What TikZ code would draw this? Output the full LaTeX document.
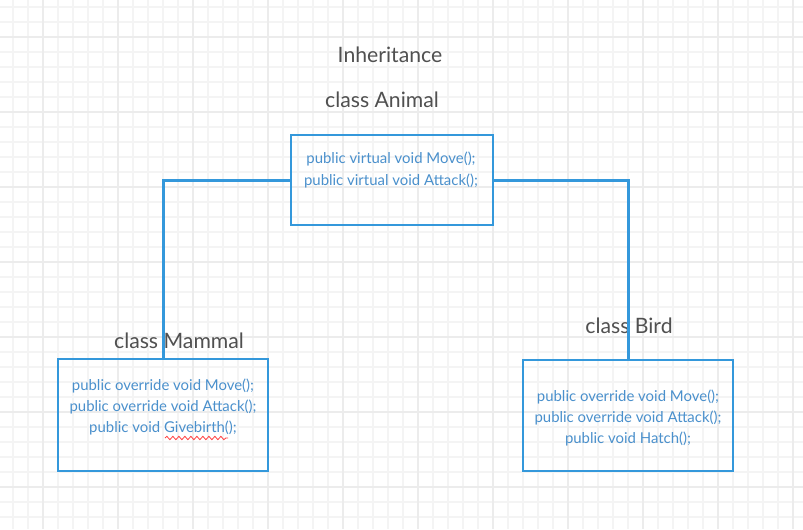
\documentclass[tikz,border=0pt]{standalone}
\usepackage{fontspec}
\setmainfont{Lato}
\usetikzlibrary{decorations.pathmorphing}
\definecolor{umlblue}{RGB}{52,152,219}
\definecolor{codeblue}{RGB}{74,144,204}
\definecolor{titlegrey}{RGB}{80,80,80}
\definecolor{gridminor}{RGB}{244,244,244}
\definecolor{gridmajor}{RGB}{236,236,236}
\begin{document}
\begin{tikzpicture}[
		x=0.75pt, y=-0.75pt,
		classbox/.style={draw=umlblue, line width=1.5pt, rectangle, inner sep=0pt},
		code/.style={text=codeblue, font=\fontsize{11.2}{15.8}\selectfont, align=center, inner sep=0pt},
		title/.style={text=titlegrey, font=\fontsize{15.9}{18}\selectfont, inner sep=0pt},
		link/.style={draw=umlblue, line width=2.25pt}
		]
		\useasboundingbox (0,0) rectangle (803,529);
		\fill[white] (0,0) rectangle (803,529);
		\foreach \gx in {13,28,...,800} {\draw[gridminor, line width=0.9pt] (\gx,0) -- (\gx,529);}
		\foreach \gy in {7,22,...,529} {\draw[gridminor, line width=0.9pt] (0,\gy) -- (803,\gy);}
		\foreach \gx in {43,118,...,800} {\draw[gridmajor, line width=0.9pt] (\gx,0) -- (\gx,529);}
		\foreach \gy in {37,112,...,529} {\draw[gridmajor, line width=0.9pt] (0,\gy) -- (803,\gy);}
		
		\node[title] (inheritance) at (390,55) {Inheritance};
		\node[title] (animallabel) at (382,100) {class Animal};
		\node[title] (mammallabel) at (179,341) {class Mammal};
		\node[title] (birdlabel) at (629,326) {class Bird};
		
		\node[classbox, minimum width=151.5pt, minimum height=67.5pt] (animal) at (392,180) {};
		\node[classbox, minimum width=157.5pt, minimum height=84pt] (mammal) at (163,415) {};
		\node[classbox, minimum width=157.5pt, minimum height=83.25pt] (bird) at (628,415.5) {};
		
		\draw[link] (animal.west) -| (mammal.north);
		\draw[link] (animal.east) -| (bird.north);
		
		\node[code] (animalcode) at (391,170) {public virtual void Move();\\public virtual void Attack();};
		\node[code] (mammalcode) at (163,407) {public override void Move();\\public override void Attack();\\public void Givebirth();};
		\node[code] (birdcode) at (628,418) {public override void Move();\\public override void Attack();\\public void Hatch();};
		
		\coordinate (squigglestart) at (165,438);
		\coordinate (squiggleend) at (228,438);
		\draw[red!75, line width=0.6pt, decorate, decoration={snake, amplitude=1.3pt, segment length=4.5pt}] (squigglestart) -- (squiggleend);
		
\end{tikzpicture}
\end{document}
